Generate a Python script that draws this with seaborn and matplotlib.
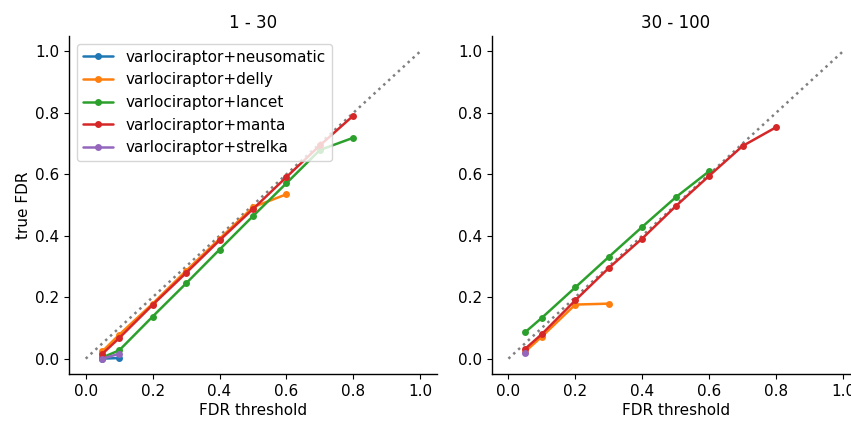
import matplotlib
matplotlib.use("Agg")
import matplotlib.pyplot as plt
import seaborn as sns
import pandas as pd

series_names = ["varlociraptor+neusomatic", "varlociraptor+delly", "varlociraptor+lancet",
                "varlociraptor+manta", "varlociraptor+strelka"]
thresholds = [0.05, 0.1, 0.2, 0.3, 0.4, 0.5, 0.6, 0.7, 0.8]

# panel "1 - 30"
p1_neusomatic = [0.0, 0.002]
p1_delly = [0.024, 0.078, 0.179, 0.286, 0.390, 0.493, 0.535]
p1_lancet = [0.004, 0.027, 0.137, 0.245, 0.355, 0.464, 0.571, 0.679, 0.719]
p1_manta = [0.016, 0.067, 0.175, 0.279, 0.385, 0.487, 0.591, 0.694, 0.791]
p1_strelka = [0.0, 0.016]

# panel "30 - 100"
p2_neusomatic = []
p2_delly = [0.023, 0.072, 0.176, 0.179]
p2_lancet = [0.086, 0.133, 0.232, 0.331, 0.429, 0.525, 0.610]
p2_manta = [0.032, 0.080, 0.190, 0.295, 0.391, 0.496, 0.595, 0.692, 0.753]
p2_strelka = [0.018]

titles = ["1 - 30", "30 - 100"]
panels = [
    [p1_neusomatic, p1_delly, p1_lancet, p1_manta, p1_strelka],
    [p2_neusomatic, p2_delly, p2_lancet, p2_manta, p2_strelka],
]

sns.set_theme(style="ticks", context="notebook")
plt.rcParams['font.family'] = ['DejaVu Sans']
plt.rcParams.update({
    'text.color': 'black', 'axes.labelcolor': 'black',
    'xtick.color': 'black', 'ytick.color': 'black',
    'axes.edgecolor': 'black', 'axes.linewidth': 1.0,
    'xtick.major.size': 3.5, 'ytick.major.size': 3.5,
    'xtick.major.width': 0.8, 'ytick.major.width': 0.8,
    'xtick.major.pad': 3.5, 'ytick.major.pad': 3.5,
    'axes.labelpad': 3.0,
})

palette = dict(zip(series_names, sns.color_palette("tab10", 5)))

fig = plt.figure(figsize=(8.51, 4.21), dpi=100)
w = 0.4324
positions = [[0.0811, 0.1116, w, 0.8029], [0.5778, 0.1116, w, 0.8029]]

for i, (title, vals) in enumerate(zip(titles, panels)):
    ax = fig.add_axes(positions[i])
    ax.plot([0, 1], [0, 1], linestyle=":", color="grey", linewidth=1.8, zorder=1)
    rows = []
    for name, ys in zip(series_names, vals):
        for x, y in zip(thresholds, ys):
            rows.append({"series": name, "threshold": x, "fdr": y})
    df = pd.DataFrame(rows)
    sns.lineplot(data=df, x="threshold", y="fdr", hue="series", hue_order=series_names,
                 palette=palette, marker="o", markersize=5, markeredgewidth=0,
                 linewidth=1.8, ax=ax, legend=(i == 0))
    ax.set_xlim(-0.05, 1.05)
    ax.set_ylim(-0.05, 1.05)
    ax.set_xticks([0.0, 0.2, 0.4, 0.6, 0.8, 1.0])
    ax.set_yticks([0.0, 0.2, 0.4, 0.6, 0.8, 1.0])
    ax.set_title(title, fontsize=12)
    ax.set_xlabel("FDR threshold", fontsize=11)
    ax.set_ylabel("true FDR" if i == 0 else "", fontsize=11)
    ax.tick_params(labelsize=11)
    sns.despine(ax=ax)
    if i == 0:
        leg = ax.legend(loc="upper left", fontsize=11, frameon=True, title=None)

fig.savefig("out.png", dpi=100)
